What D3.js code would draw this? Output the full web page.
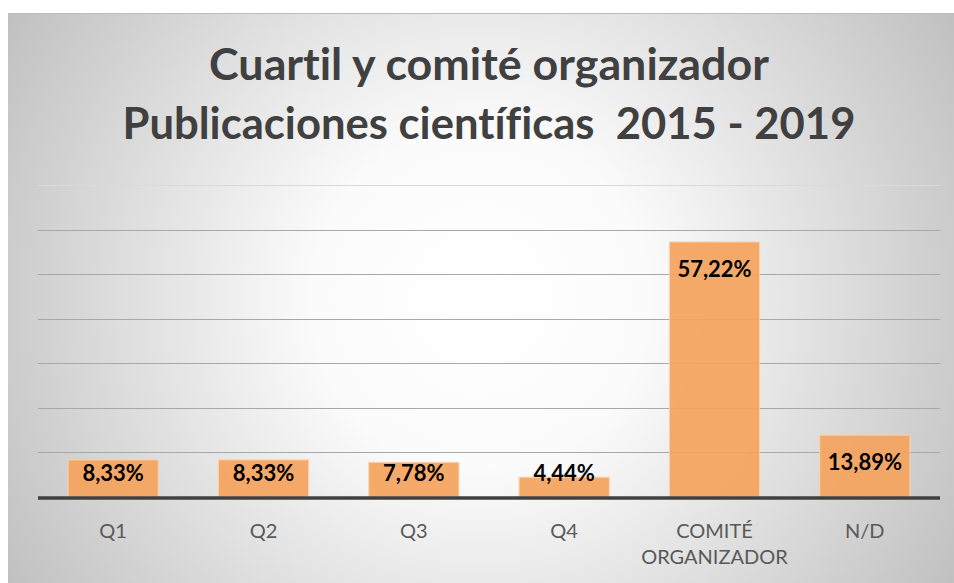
<!DOCTYPE html>
<html>
<head>
<meta charset="utf-8">
<script src="https://cdn.jsdelivr.net/npm/d3@7"></script>
<style>
  html, body { margin: 0; padding: 0; background: #fff; }
  svg { display: block; }
  text { font-variant-ligatures: none; }
</style>
</head>
<body>
<div id="chart"></div>
<script>
const categories = ["Q1", "Q2", "Q3", "Q4", "COMITÉ\nORGANIZADOR", "N/D"];
const values = [8.33, 8.33, 7.78, 4.44, 57.22, 13.89];
const yTicks = [0, 10, 20, 30, 40, 50, 60, 70];
const titleLines = ["Cuartil y comité organizador", "Publicaciones científicas  2015 - 2019"];

const BAR_COLOR = "#f5a45e";
const width = 954;
const height = 583;

const locale = d3.formatLocale({ decimal: ",", thousands: ".", grouping: [3], currency: ["", "€"] });
const fmt = locale.format(".2f");

const svg = d3.select("#chart")
  .append("svg")
  .attr("width", width)
  .attr("height", height);

// background gradient
const defs = svg.append("defs");
const grad = defs.append("radialGradient")
  .attr("id", "bg")
  .attr("gradientUnits", "userSpaceOnUse")
  .attr("cx", 480).attr("cy", 300).attr("r", 560);
grad.append("stop").attr("offset", "0%").attr("stop-color", "#ffffff");
grad.append("stop").attr("offset", "30%").attr("stop-color", "#fbfbfb");
grad.append("stop").attr("offset", "100%").attr("stop-color", "#bfbfbf");

svg.append("rect")
  .attr("x", 8).attr("y", 13)
  .attr("width", width).attr("height", height)
  .attr("fill", "url(#bg)");
svg.append("line")
  .attr("x1", 8).attr("x2", width)
  .attr("y1", 13.5).attr("y2", 13.5)
  .attr("stroke", "#bcbcbc");

const x = d3.scaleBand()
  .domain(categories)
  .range([38, 940])
  .paddingInner(0.4)
  .paddingOuter(0.2);

const y = d3.scaleLinear()
  .domain([0, 70])
  .range([497, 185]);

// gridlines
svg.append("g")
  .selectAll("line")
  .data(yTicks.slice(1))
  .join("line")
  .attr("x1", 38).attr("x2", 940)
  .attr("y1", d => Math.round(y(d)) + 0.5)
  .attr("y2", d => Math.round(y(d)) + 0.5)
  .attr("stroke", d => d === 70 ? "#dadada" : "#a8a8a8")
  .attr("stroke-width", 1.2);

// bars
svg.append("g")
  .selectAll("rect")
  .data(values)
  .join("rect")
  .attr("x", (d, i) => x(categories[i]))
  .attr("y", d => y(d))
  .attr("width", x.bandwidth())
  .attr("height", d => y(0) - y(d))
  .attr("fill", BAR_COLOR)
  .attr("fill-opacity", 0.93)
  .attr("stroke", "#fbd2ae")
  .attr("stroke-width", 1);

// baseline
svg.append("line")
  .attr("x1", 38).attr("x2", 940)
  .attr("y1", 498).attr("y2", 498)
  .attr("stroke", "#404040")
  .attr("stroke-width", 3.5);

// data labels
svg.append("g")
  .selectAll("text")
  .data(values)
  .join("text")
  .text(d => fmt(d) + "%")
  .attr("x", (d, i) => x(categories[i]) + x.bandwidth() / 2)
  .attr("y", d => Math.min(y(d) + 27, 473))
  .attr("dy", "0.36em")
  .attr("text-anchor", "middle")
  .attr("font-family", "Lato, 'Open Sans', sans-serif")
  .attr("font-weight", "bold")
  .attr("font-size", "22px")
  .attr("fill", "#000");

// category labels
const xLabels = svg.append("g")
  .selectAll("text")
  .data(categories)
  .join("text")
  .attr("x", d => x(d) + x.bandwidth() / 2)
  .attr("y", 538)
  .attr("text-anchor", "middle")
  .attr("font-family", "Lato, 'Open Sans', sans-serif")
  .attr("font-size", "20px")
  .attr("fill", "#595959");

xLabels.selectAll("tspan")
  .data(d => d.split("\n"))
  .join("tspan")
  .attr("x", function () { return this.parentNode.getAttribute("x"); })
  .attr("dy", (d, i) => i === 0 ? 0 : 26)
  .text(d => d);

// title
const titleWidths = [560, 733];
const titleY = [80, 139];
svg.append("g")
  .selectAll("text")
  .data(titleLines)
  .join("text")
  .text(d => d)
  .attr("x", 489)
  .attr("y", (d, i) => titleY[i])
  .attr("text-anchor", "middle")
  .attr("font-family", "Lato, 'Open Sans', sans-serif")
  .attr("font-weight", "bold")
  .attr("font-size", "40px")
  .attr("fill", "#404040")
  .style("white-space", "pre")
  .each(function (d, i) {
    // fit to the width seen in the reference
    const w = this.getComputedTextLength();
    if (w > 0) d3.select(this).attr("font-size", (40 * titleWidths[i] / w).toFixed(1) + "px");
  });
</script>
</body>
</html>
